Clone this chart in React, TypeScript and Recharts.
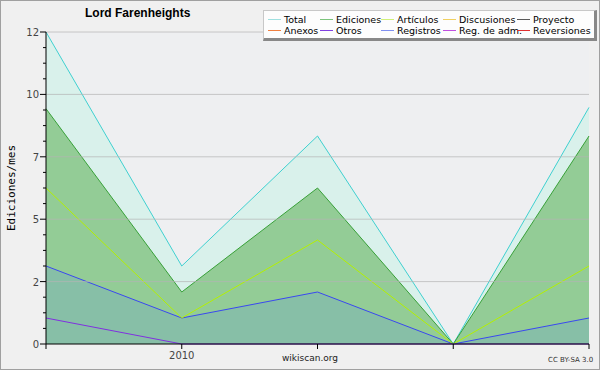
import { ComposedChart, Area, Line, XAxis, YAxis, CartesianGrid, ReferenceLine } from 'recharts';

// monthly points, Dec 2009 .. Apr 2010
const months = ['2009-12', '2010-01', '2010-02', '2010-03', '2010-04'];
const total = [12, 3, 8, 0, 9.1];
const ediciones = [9.05, 2, 6, 0, 8];
const articulos = [6, 1, 4, 0, 3];
const registros = [3, 1, 2, 0, 1];
const otros = [1, 0, 0, 0, 0];

const majorTicks = [0, 2.4, 4.8, 7.2, 9.6, 12];
const minorTicks = [0.6, 1.2, 1.8, 3, 3.6, 4.2, 5.4, 6, 6.6, 7.8, 8.4, 9, 10.2, 10.8, 11.4];
const xLabels = ['', '2010', '', '', ''];

const legendRow1 = [
  { name: 'Total', color: '#9fe0e0' },
  { name: 'Ediciones', color: '#7cc47c' },
  { name: 'Artículos', color: '#d0f07a' },
  { name: 'Discusiones', color: '#f0d060' },
  { name: 'Proyecto', color: '#5a5a5a' },
];
const legendRow2 = [
  { name: 'Anexos', color: '#f08040' },
  { name: 'Otros', color: '#8040e0' },
  { name: 'Registros', color: '#8090f0' },
  { name: 'Reg. de adm.', color: '#c050e0' },
  { name: 'Reversiones', color: '#e03030' },
];
const legendCols = [4, 56, 117, 179, 253];

const data = months.map((m, i) => ({
  i,
  month: m,
  total: total[i],
  ediciones: ediciones[i],
  articulos: articulos[i],
  registros: registros[i],
  otros: otros[i],
}));

const font = '"DejaVu Sans", sans-serif';

const YTick = (props: any) => {
  const { x, y, payload } = props;
  const major = majorTicks.includes(payload.value);
  return (
    <g>
      <line x1={x - (major ? 6 : 3)} x2={x} y1={y} y2={y} stroke="#000" />
      {major && (
        <text x={x - 7} y={y} dy={4} textAnchor="end" fontSize={10} fill="#444" fontFamily={font}>
          {Math.round(payload.value)}
        </text>
      )}
    </g>
  );
};

const XTick = (props: any) => {
  const { x, y, payload } = props;
  return (
    <g>
      <line x1={x} x2={x} y1={y} y2={y + 5} stroke="#000" />
      <text x={x} y={y + 15} textAnchor="middle" fontSize={10} fill="#444" fontFamily={font}>
        {xLabels[payload.value]}
      </text>
    </g>
  );
};

export default function App() {
  return (
    <div style={{ position: 'absolute', left: 0, top: 0, width: 600, height: 370, background: '#f0f0f0', fontFamily: font }}>
      <ComposedChart width={600} height={370} data={data} margin={{ top: 32, right: 11, bottom: 0, left: 0 }}>
        <CartesianGrid fill="#eeeff1" horizontal={false} vertical={false} stroke="none" />
        <XAxis
          dataKey="i"
          type="number"
          domain={[0, 4]}
          ticks={[0, 1, 2, 3, 4]}
          height={26}
          axisLine={{ stroke: '#000' }}
          tickLine={false}
          tickSize={0}
          tickMargin={0}
          tick={<XTick />}
          interval={0}
        />
        <YAxis
          type="number"
          domain={[0, 12]}
          ticks={[...majorTicks, ...minorTicks]}
          width={46}
          axisLine={{ stroke: '#000' }}
          tickLine={false}
          tickSize={0}
          tickMargin={0}
          tick={<YTick />}
          interval={0}
        />
        <Area type="linear" dataKey="total" stroke="#3fd0d0" fill="#d9f1eb" fillOpacity={1} strokeWidth={1} isAnimationActive={false} dot={false} />
        <Area type="linear" dataKey="ediciones" stroke="#38a038" fill="#93cc96" fillOpacity={1} strokeWidth={1} isAnimationActive={false} dot={false} />
        <Line type="linear" dataKey="articulos" stroke="#b4f000" strokeWidth={1} isAnimationActive={false} dot={false} />
        <Area type="linear" dataKey="registros" stroke="#3a48f0" fill="#87bfa7" fillOpacity={1} strokeWidth={1} isAnimationActive={false} dot={false} />
        <Line type="linear" dataKey="otros" stroke="#8030e0" strokeWidth={1} isAnimationActive={false} dot={false} />
        {majorTicks.slice(1).map((t) => (
          <ReferenceLine key={t} y={t} stroke="#b4b4b4" strokeOpacity={0.7} />
        ))}
      </ComposedChart>

      <div style={{ position: 'absolute', left: 85, top: 6, fontFamily: '"Liberation Sans", sans-serif', fontWeight: 'bold', fontSize: 12, color: '#000' }}>
        Lord Farenheights
      </div>
      <div
        style={{
          position: 'absolute',
          left: 11,
          top: 188,
          transform: 'translate(-50%, -50%) rotate(-90deg)',
          fontFamily: '"DejaVu Sans Mono", monospace',
          fontSize: 11,
          whiteSpace: 'nowrap',
          color: '#000',
        }}
      >
        Ediciones/mes
      </div>
      <div style={{ position: 'absolute', left: 310, top: 353, transform: 'translateX(-50%)', fontSize: 9, color: '#222' }}>wikiscan.org</div>
      <div style={{ position: 'absolute', left: 548, top: 356, fontSize: 7, color: '#333' }}>CC BY-SA 3.0</div>

      <div
        style={{
          position: 'absolute',
          left: 263,
          top: 10,
          width: 330,
          height: 27,
          background: '#fdfdfd',
          borderTop: '1px solid #c8c8c8',
          borderLeft: '1px solid #c8c8c8',
          borderRight: '3px solid #888',
          borderBottom: '3px solid #888',
          fontSize: 9.5,
          color: '#000',
        }}
      >
        {[legendRow1, legendRow2].map((row, r) =>
          row.map((item, k) => (
            <div key={item.name} style={{ position: 'absolute', left: legendCols[k], top: 3 + r * 11, display: 'flex', alignItems: 'center', whiteSpace: 'nowrap', lineHeight: '11px' }}>
              <span style={{ display: 'inline-block', width: 13, height: 1, background: item.color, marginRight: 3 }} />
              {item.name}
            </div>
          ))
        )}
      </div>
      <div style={{ position: 'absolute', left: 0, top: 0, width: 598, height: 368, border: '1px solid #a0a0a0', pointerEvents: 'none' }} />
    </div>
  );
}
